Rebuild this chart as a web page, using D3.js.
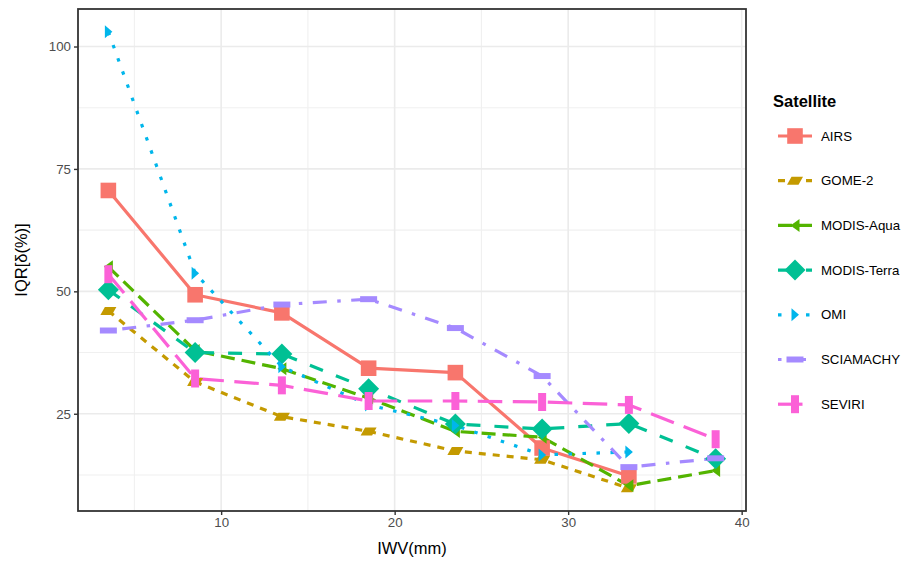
<!DOCTYPE html>
<html>
<head>
<meta charset="utf-8">
<script src="https://cdn.jsdelivr.net/npm/d3@7"></script>
<style>
  html, body { margin: 0; padding: 0; background: #fff; }
  svg { display: block; font-family: "Liberation Sans", Arial, Helvetica, sans-serif; }
</style>
</head>
<body>
<svg id="chart" width="908" height="565"></svg>
<script>
// IWV bin centres (mm)
const iwv = [3.5, 8.5, 13.5, 18.5, 23.5, 28.5, 33.5, 38.5];

// IQR of relative difference (%) per satellite; null = no value in that bin
const airs       = [70.6, 49.3, 45.6, 34.3, 33.4, 18.0, 12.3, null];
const gome2      = [46.0, 31.5, 24.4, 21.4, 17.4, 15.6, 9.8, null];
const modisAqua  = [55.0, 37.9, 34.2, 28.2, 21.4, 20.2, 10.3, 13.4];
const modisTerra = [50.3, 37.5, 37.2, 30.1, 22.9, 21.9, 23.0, 15.8];
const omi        = [103.0, 53.7, 34.6, 26.8, 22.6, 16.6, 17.2, null];
const sciamachy  = [42.0, 44.1, 47.3, 48.4, 42.5, 32.7, 14.1, 15.9];
const seviri     = [53.5, 32.2, 30.8, 27.6, 27.6, 27.4, 26.8, 19.8];

const satelliteNames = ["AIRS", "GOME-2", "MODIS-Aqua", "MODIS-Terra", "OMI", "SCIAMACHY", "SEVIRI"];
const satelliteValues = [airs, gome2, modisAqua, modisTerra, omi, sciamachy, seviri];

const xTicks = [10, 20, 30, 40];
const yTicks = [25, 50, 75, 100];

// styling
const colors = ["#F8766D", "#C49A00", "#53B400", "#00C094", "#00B6EB", "#A58AFF", "#FB61D7"];
const dashUnits = [null, [2, 2], [4, 2], [4, 4], [1, 3], [1, 3, 4, 3], [7, 3]];
const shapeKinds = ["square", "parallelogram", "triangleLeft", "diamond", "triangleRight", "hbar", "vbar"];

const lineWidth = 3.2;
const dashScale = 3.5;

const panel = { left: 78, right: 746, top: 9, bottom: 511 };

const series = satelliteNames.map((name, i) => ({
  name,
  color: colors[i],
  dash: dashUnits[i] ? dashUnits[i].map(u => u * dashScale).join(",") : null,
  shape: shapeKinds[i],
  points: iwv.map((x, j) => ({ x, y: satelliteValues[i][j] })).filter(p => p.y != null)
}));

// ggplot-like 5% expansion
function expand(ext, f = 0.05) {
  const r = ext[1] - ext[0];
  return [ext[0] - r * f, ext[1] + r * f];
}
const allY = satelliteValues.flat().filter(v => v != null);

const x = d3.scaleLinear().domain(expand(d3.extent(iwv))).range([panel.left, panel.right]);
const y = d3.scaleLinear().domain(expand(d3.extent(allY))).range([panel.bottom, panel.top]);

const svg = d3.select("#chart");
svg.append("rect").attr("width", 908).attr("height", 565).attr("fill", "#fff");

// grid
const grid = svg.append("g");
const xMinor = [5, 15, 25, 35];
const yMinor = [12.5, 37.5, 62.5, 87.5];
grid.selectAll(".xminor").data(xMinor).join("line")
  .attr("x1", d => x(d)).attr("x2", d => x(d))
  .attr("y1", panel.top).attr("y2", panel.bottom)
  .attr("stroke", "#F0F0F0").attr("stroke-width", 1.1);
grid.selectAll(".yminor").data(yMinor).join("line")
  .attr("y1", d => y(d)).attr("y2", d => y(d))
  .attr("x1", panel.left).attr("x2", panel.right)
  .attr("stroke", "#F0F0F0").attr("stroke-width", 1.1);
grid.selectAll(".xmajor").data(xTicks).join("line")
  .attr("x1", d => x(d)).attr("x2", d => x(d))
  .attr("y1", panel.top).attr("y2", panel.bottom)
  .attr("stroke", "#EBEBEB").attr("stroke-width", 1.6);
grid.selectAll(".ymajor").data(yTicks).join("line")
  .attr("y1", d => y(d)).attr("y2", d => y(d))
  .attr("x1", panel.left).attr("x2", panel.right)
  .attr("stroke", "#EBEBEB").attr("stroke-width", 1.6);

// marker shapes
function shapePath(kind) {
  switch (kind) {
    case "square": return "M-7.8,-7.8H7.8V7.8H-7.8Z";
    case "parallelogram": return "M-8,4H3.5L8,-4H-3.5Z";
    case "triangleLeft": return "M-4.5,0L4.5,-6.5V6.5Z";
    case "diamond": return "M0,-10.5L10.5,0L0,10.5L-10.5,0Z";
    case "triangleRight": return "M4,0L-3.5,-6.5V6.5Z";
    case "hbar": return "M-8.5,-3H8.5V3H-8.5Z";
    case "vbar": return "M-4,-9H4V9H-4Z";
  }
}

// clip to panel
svg.append("clipPath").attr("id", "panelClip")
  .append("rect").attr("x", panel.left).attr("y", panel.top)
  .attr("width", panel.right - panel.left).attr("height", panel.bottom - panel.top);

const plot = svg.append("g").attr("clip-path", "url(#panelClip)");
const line = d3.line().x(d => x(d.x)).y(d => y(d.y));

plot.selectAll(".series-line").data(series).join("path")
  .attr("d", d => line(d.points))
  .attr("fill", "none")
  .attr("stroke", d => d.color)
  .attr("stroke-width", lineWidth)
  .attr("stroke-dasharray", d => d.dash)
  .attr("stroke-linejoin", "round");

series.forEach(s => {
  plot.selectAll(null).data(s.points).join("path")
    .attr("transform", d => `translate(${x(d.x)},${y(d.y)})`)
    .attr("d", shapePath(s.shape))
    .attr("fill", s.color);
});

// panel border
svg.append("rect")
  .attr("x", panel.left).attr("y", panel.top)
  .attr("width", panel.right - panel.left).attr("height", panel.bottom - panel.top)
  .attr("fill", "none").attr("stroke", "#333333").attr("stroke-width", 1.8);

// axes
const xAxis = svg.append("g").attr("transform", `translate(0,${panel.bottom})`)
  .call(d3.axisBottom(x).tickValues(xTicks).tickSize(4).tickPadding(3));
const yAxis = svg.append("g").attr("transform", `translate(${panel.left},0)`)
  .call(d3.axisLeft(y).tickValues(yTicks).tickSize(4).tickPadding(3));
[xAxis, yAxis].forEach(a => {
  a.select(".domain").remove();
  a.selectAll(".tick line").attr("stroke", "#333333").attr("stroke-width", 1.4);
  a.selectAll(".tick text").attr("fill", "#4D4D4D")
    .style("font-size", "13.3px").style("font-family", "'Liberation Sans', Arial, sans-serif");
});

// axis titles
svg.append("text")
  .attr("x", (panel.left + panel.right) / 2).attr("y", 554)
  .attr("text-anchor", "middle").attr("font-size", 16.5).attr("fill", "#000")
  .text("IWV(mm)");
svg.append("text")
  .attr("transform", `translate(27,${(panel.top + panel.bottom) / 2}) rotate(-90)`)
  .attr("text-anchor", "middle").attr("font-size", 16.5).attr("fill", "#000")
  .text("IQR[δ(%)]");

// legend
const legend = svg.append("g");
legend.append("text")
  .attr("x", 773).attr("y", 107)
  .attr("font-size", 16.5).attr("font-weight", "bold").attr("fill", "#000")
  .text("Satellite");

const keyY0 = 136, keyStep = 44.7, keyX0 = 778, keyX1 = 812;
const keys = legend.selectAll(".key").data(series).join("g")
  .attr("transform", (d, i) => `translate(0,${keyY0 + i * keyStep})`);
keys.append("line")
  .attr("x1", keyX0).attr("x2", keyX1).attr("y1", 0).attr("y2", 0)
  .attr("stroke", d => d.color).attr("stroke-width", lineWidth)
  .attr("stroke-dasharray", d => d.dash);
keys.append("path")
  .attr("transform", `translate(${(keyX0 + keyX1) / 2},0)`)
  .attr("d", d => shapePath(d.shape))
  .attr("fill", d => d.color);
keys.append("text")
  .attr("x", 821).attr("y", 0).attr("dy", "0.35em")
  .attr("font-size", 13.3).attr("fill", "#000")
  .text(d => d.name);
</script>
</body>
</html>
